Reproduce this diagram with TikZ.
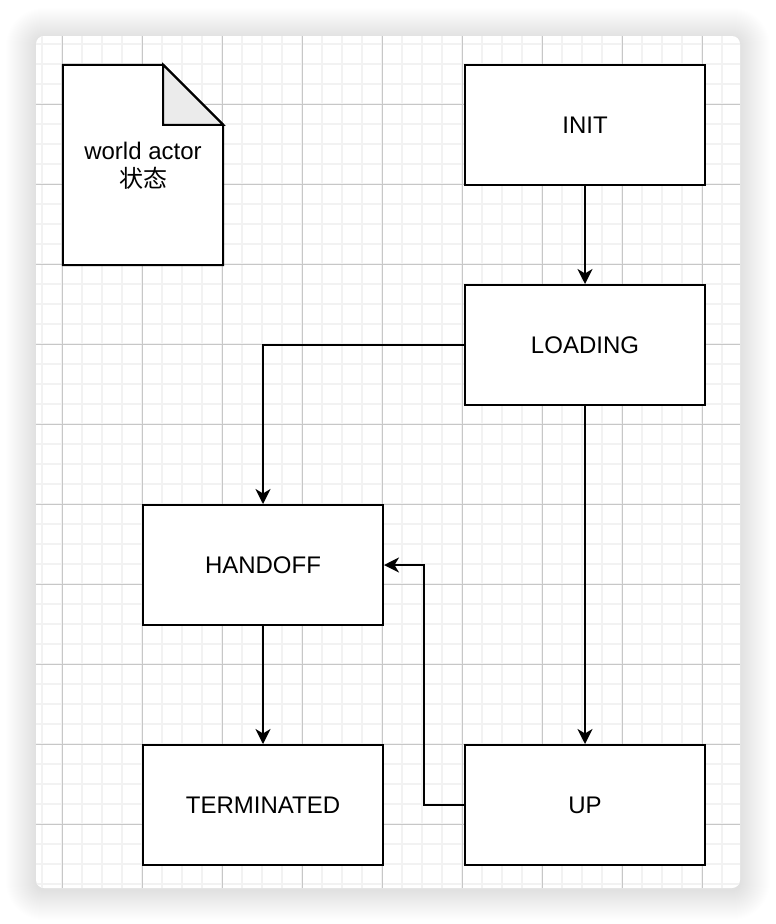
\documentclass[tikz,border=0pt]{standalone}
\usepackage{fontspec}
\setmainfont{Liberation Sans}
\newfontfamily\cjk{Noto Sans CJK SC}
\usetikzlibrary{arrows.meta}
\begin{document}
\begin{tikzpicture}[x=1pt,y=-1pt,
  minorgrid/.style={draw=black!5,line width=1.6pt},
  majorgrid/.style={draw=black!22,line width=0.9pt},
  statebox/.style={draw=black,fill=white,line width=2pt,minimum width=240pt,minimum height=120pt,inner sep=0pt,font=\fontsize{24}{28}\selectfont},
  conn/.style={draw=black,line width=2pt,-{Stealth[length=15pt,width=15pt,inset=4.5pt]}},
]
\useasboundingbox (0,0) rectangle (776,924);
% shadow
\foreach \i in {1,...,30}{
  \pgfmathsetmacro\r{8+\i}
  \fill[black,opacity=0.0048,rounded corners=\r pt] (36-\i,38-\i) rectangle (740+\i,890+\i);
}
% canvas
\fill[white,rounded corners=8pt] (36,36) rectangle (740,888);
\begin{scope}
  \clip[rounded corners=8pt] (36,36) rectangle (740,888);
  \foreach \x in {42,62,...,722} \draw[minorgrid] (\x,36) -- (\x,888);
  \foreach \y in {44,64,...,884} \draw[minorgrid] (36,\y) -- (740,\y);
  \foreach \x in {62,142,...,702} \draw[majorgrid] (\x,36) -- (\x,888);
  \foreach \y in {104,184,...,824} \draw[majorgrid] (36,\y) -- (740,\y);
\end{scope}
% document shape
\node[minimum width=160pt,minimum height=200pt,inner sep=0pt] (docbox) at (143,165) {};
\draw[line width=2pt,fill=white,line join=miter]
  (docbox.north west) -- ([xshift=-60pt]docbox.north east) -- ([yshift=-60pt]docbox.north east)
  -- (docbox.south east) -- (docbox.south west) -- cycle;
\draw[line width=2pt,fill=black!8,line join=miter]
  ([xshift=-60pt]docbox.north east) -- ([xshift=-60pt,yshift=-60pt]docbox.north east)
  -- ([yshift=-60pt]docbox.north east) -- cycle;
\node[align=center,font=\fontsize{24}{28}\selectfont,inner sep=0pt] (doctext) at (143,166) {world actor\\{\cjk 状态}};
% states
\node[statebox] (init) at (585,125) {INIT};
\node[statebox] (loading) at (585,345) {LOADING};
\node[statebox] (handoff) at (263,565) {HANDOFF};
\node[statebox] (terminated) at (263,805) {TERMINATED};
\node[statebox] (up) at (585,805) {UP};
\coordinate (upbend) at (424,805);
% connectors
\draw[conn] (init) -- (loading);
\draw[conn] (loading.west) -| (handoff.north);
\draw[conn] (loading) -- (up);
\draw[conn] (handoff) -- (terminated);
\draw[conn] (up.west) -- (upbend) |- (handoff.east);
\end{tikzpicture}
\end{document}
